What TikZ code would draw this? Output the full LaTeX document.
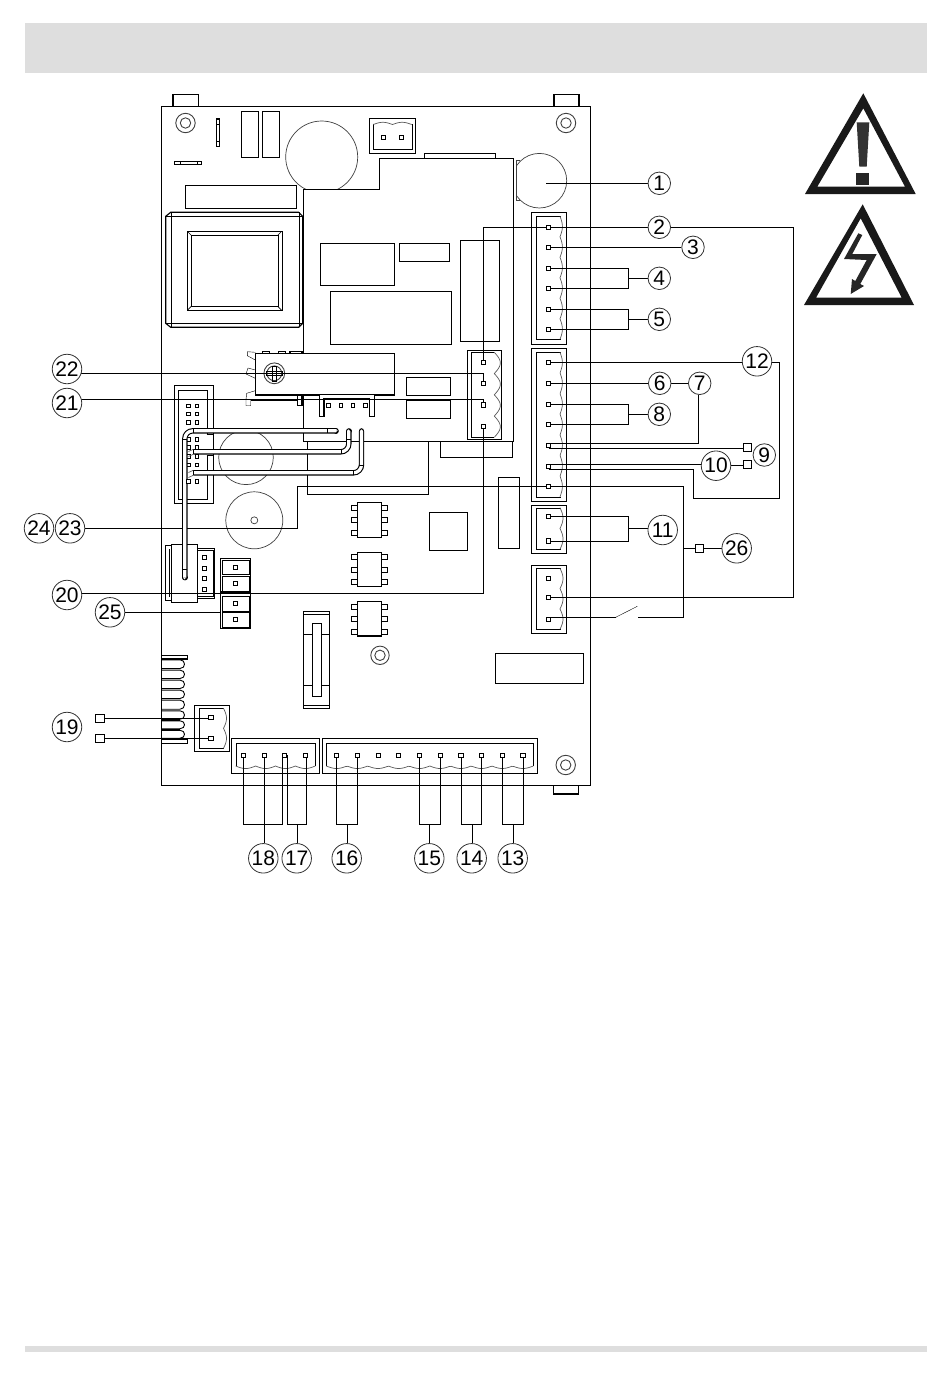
\documentclass[tikz,border=0pt]{standalone}
\usepackage{fontspec}
\setmainfont{Liberation Sans}
\pgfdeclarelayer{front}
\pgfsetlayers{main,front}
\definecolor{band}{HTML}{DEDEDE}
\tikzset{
  num/.style={circle,draw=black!80,line width=.8pt,fill=white,inner sep=0pt,minimum size=22.5pt,font=\fontsize{21}{21}\selectfont,text=black},
  numw/.style={num,minimum size=29.5pt},
  pin/.style={rectangle,draw=black,line width=.9pt,fill=white,inner sep=0pt,minimum size=4.2pt},
  termbox/.style={rectangle,draw=black,line width=.9pt,fill=white,inner sep=0pt,minimum size=8.3pt},
  part/.style={draw=black,line width=1.15pt,fill=white},
  faint/.style={draw=black!75,line width=.7pt},
  wave/.style={draw=black!65,line width=.7pt},
  cable/.style={draw=black,line width=1.1pt,double=white,double distance=3.2pt,line cap=butt},
  capend/.style={draw=black,line width=1.1pt,double=white,double distance=3.2pt,line cap=round},
}
\newcommand\vwave[5]{\draw[wave] plot[variable=\t,domain=0:#4,samples=97] ({#1+#5*abs(sin(180*\t))},{#2+\t*(#3-#2)/#4});}
\newcommand\hwave[5]{\draw[wave] plot[variable=\t,domain=0:#4,samples=97] ({#1+\t*(#2-#1)/#4},{#3+#5*abs(sin(180*\t))});}
\newcommand\chip[2]{%
  \foreach \yy/\dd in {#2} {
    \draw[part] (351.3,{\yy-2.4}) rectangle (357.3,{\yy+2.4});
    \draw[part] (381.7,{\yy-2.4}) rectangle (387.7,{\yy+2.4});
  }
}
\newcommand\hole[3]{\draw[faint,line width=.9pt] (#1,#2) circle[radius=#3]; \draw[faint,line width=.9pt] (#1,#2) circle[radius=5.2];}
\begin{document}
\begin{tikzpicture}[x=1pt,y=-1pt,line width=1.15pt,line join=miter]
\useasboundingbox (0,0) rectangle (950,1374);
\fill[band] (25,23) rectangle (927,73);
\fill[band] (25,1346) rectangle (927,1352);

% ---- numbered marks and terminals, on the front layer
\begin{pgfonlayer}{front}
\node[num] (n1) at (659.3,183.3) {1};
\node[num] (n2) at (659.3,227.3) {2};
\node[num] (n3) at (693,247.3) {3};
\node[num] (n4) at (659.3,278.3) {4};
\node[num] (n5) at (659.3,319.3) {5};
\node[num] (n6) at (659.7,383.3) {6};
\node[num] (n7) at (699.7,383.3) {7};
\node[num] (n8) at (659.3,414.3) {8};
\node[num] (n9) at (764.3,455) {9};
\node[numw] (n10) at (716,465.7) {10};
\node[numw] (n11) at (662.7,530) {11};
\node[numw] (n12) at (757,361.3) {12};
\node[numw] (n13) at (512.7,858.3) {13};
\node[numw] (n14) at (471.7,858.3) {14};
\node[numw] (n15) at (429.3,858.3) {15};
\node[numw] (n16) at (346.7,858.3) {16};
\node[numw] (n17) at (296.7,858.3) {17};
\node[numw] (n18) at (263.3,858.3) {18};
\node[numw] (n19) at (67,727) {19};
\node[numw] (n20) at (67,595) {20};
\node[numw] (n21) at (67,403) {21};
\node[numw] (n22) at (67,369) {22};
\node[numw] (n23) at (70,528.3) {23};
\node[numw] (n24) at (39,528.3) {24};
\node[numw] (n25) at (110,612.3) {25};
\node[numw] (n26) at (736.7,548.3) {26};
% terminals of the right connectors
\foreach \nm/\yy in {ra1/227.3,ra2/247.3,ra3/268.3,ra4/288.3,ra5/309.3,ra6/329.3,
  rb1/362.3,rb2/383.3,rb3/404.3,rb4/424.3,rb5/445.3,rb6/466.7,rb7/486.3,
  rc1/516.3,rc2/541,rd1/578.3,rd2/597.3,rd3/619.3}
  \node[pin] (\nm) at (548.5,\yy) {};
\foreach \nm/\yy in {ma1/362.7,ma2/383.7,ma3/405,ma4/426.7}
  \node[pin] (\nm) at (483.3,\yy) {};
\foreach \nm/\xx in {ba1/243.3,ba2/264.3,ba3/284.7,ba4/305.7,bb1/336.3,bb2/357.3,bb3/378.3,bb4/398.3,bb5/419.3,bb6/440.3,bb7/461,bb8/481.3,bb9/502.3,bb10/523}
  \node[pin] (\nm) at (\xx,755.3) {};
\node[pin] (ca1) at (211,717.7) {};
\node[pin] (ca2) at (211,738.3) {};
\node[termbox] (t9) at (747.2,447.5) {};
\node[termbox] (t10) at (747.2,464.7) {};
\node[termbox] (t26) at (699.2,548.3) {};
\node[termbox] (t19a) at (99.8,718.5) {};
\node[termbox] (t19b) at (99.8,738.5) {};
% other terminals
\foreach \xx/\yy in {383.3/137.3,401.3/137.3,
  328.3/405.3,341/405.3,353/405.3,365.3/405.3,
  204.3/557.3,204.3/568.3,204.3/578.7,204.3/589.3,
  235.3/567.3,235.3/583.3,235.3/603.3,235.3/619.3,
  188.3/406,197/406,188.3/414,197/414,188.3/422.3,197/422.3,
  197/439.3,197/447.7,197/456.3,197/465,197/481.7,188.3/481.7}
  \draw[draw=black,line width=.9pt,fill=white] ({\xx-1.8},{\yy-1.8}) rectangle ({\xx+1.8},{\yy+1.8});
\end{pgfonlayer}

% ---- board
\draw[part] (173,94.5) rectangle (198.5,106.5);
\draw[line width=1.8pt] (173,94.5) -- (198.5,94.5);
\draw[part] (554,94.5) rectangle (579,106.5);
\draw[line width=1.8pt] (554,94.5) -- (579,94.5);
\draw[part] (553.3,785.7) rectangle (578.7,794);
\draw[part] (161.5,106.5) rectangle (590.5,785.7);
\hole{185.5}{123}{9.7}
\hole{566}{123}{9.7}
\hole{565.7}{765}{9.7}
\hole{380}{655.3}{9.2}

% small parts upper left
\draw[part] (216.3,119) rectangle (219.7,146.3);
\draw (216.3,124) -- (219.7,124) (216.3,141) -- (219.7,141);
\draw[part] (174.3,161.3) rectangle (201.7,164.7);
\draw (179.7,161.3) -- (179.7,164.7) (196.7,161.3) -- (196.7,164.7);
\draw[part] (241.3,111.3) rectangle (258.7,157.3);
\draw[part] (262.3,111.3) rectangle (279.7,157.3);
\begin{scope}
  \clip (280,110) rectangle (365,189.3);
  \draw[faint] (321.7,157) circle[radius=36];
\end{scope}
\draw[part] (369.3,118.3) rectangle (415.7,153.3);
\draw (373.3,123.5) -- (373.3,149.3) -- (411.7,149.3) -- (411.7,123.5);
\hwave{373.3}{411.7}{124.5}{2}{-2.2}
\draw[part] (424.3,153.3) rectangle (495.7,158.3);
\draw[part] (185.3,185.3) rectangle (296.3,208.3);

% large component panel
\draw (302.7,441.3) -- (302.7,189.3) -- (378.7,189.3) -- (378.7,158.3) -- (513.3,158.3) -- (513.3,441.3) -- cycle;
\draw (307.3,441.3) -- (307.3,494.3) -- (427.7,494.3) -- (427.7,441.3);
\draw (440.3,441.3) -- (440.3,457.3) -- (512.3,457.3) -- (512.3,441.3);

% transformer
\draw[part] (170.7,212.3) -- (298.7,212.3) -- (302.7,216.3) -- (302.7,323.3) -- (298.7,327.3) -- (170.7,327.3) -- (165.7,323.3) -- (165.7,216.3) -- cycle;
\draw (170.7,212.3) -- (170.7,327.3) (298.7,212.3) -- (298.7,327.3) (165.7,216.3) -- (302.7,216.3) (165.7,323.3) -- (302.7,323.3);
\draw (187.3,231.3) rectangle (281.7,310.3);
\draw (191.3,235.3) rectangle (277.7,306.3);
\draw[line width=.6pt] (187.3,231.3) -- (191.3,235.3) (281.7,231.3) -- (277.7,235.3) (187.3,310.3) -- (191.3,306.3) (281.7,310.3) -- (277.7,306.3);

% rectangles in the panel
\draw[part] (320.3,243.3) rectangle (394.3,285.3);
\draw[part] (399.3,243.3) rectangle (449.3,261.3);
\draw[part] (330.3,291.3) rectangle (451.7,344.3);
\draw[part] (460.3,240.3) rectangle (499.3,341.3);
\draw[part] (406.3,377.3) rectangle (450.7,395.3);
\draw[part] (406.3,400.3) rectangle (450.7,418.3);

% relay
\draw (255.3,352.3) -- (247.3,351.7) -- (247.3,355.7) -- (255.3,360);
\draw (255.3,370) -- (248,368) -- (246,374) -- (255.3,378.3);
\draw (255.3,390.7) -- (246.7,393.3) -- (246,399.3) -- (246,405.7) -- (250.7,405.7) -- (250.7,399.3);
\draw[part] (262.3,351.3) rectangle (269.7,353.3);
\draw[part] (278.3,351.3) rectangle (285.7,353.3);
\draw[part] (290,351.3) rectangle (302,353.3);
\draw[part] (255.3,353.3) rectangle (394.3,395);
\draw[line width=1.8pt] (250.7,400) -- (297.3,400);
\draw[part] (297.3,395) rectangle (302,405.7);
\draw[faint,line width=.9pt] (274.3,373.3) circle[radius=10.4];
\draw[faint,line width=.9pt] (274.3,373.3) circle[radius=7.4];
\draw[line width=.9pt] (272.3,366.7) rectangle (276.3,381.7);
\draw[line width=.9pt] (266.5,371.3) rectangle (282,375.5);

% pin header near the relay
\draw[part] (319.3,395) -- (319.3,416.3) -- (324,416.3) -- (324,398.5) -- (369.7,398.5) -- (369.7,416.3) -- (374.3,416.3) -- (374.3,395);
\draw[line width=1.8pt] (324,398.7) -- (369.7,398.7);

% right-hand connectors
\draw[part] (531.3,212.3) rectangle (566.7,344.3);
\draw (561,216.3) -- (536.3,216.3) -- (536.3,339.3) -- (561,339.3);
\vwave{560}{216.3}{339.3}{6}{2.4}
\draw[part] (531.3,348.3) rectangle (566.7,501.3);
\draw (561,352.3) -- (536.3,352.3) -- (536.3,496.7) -- (561,496.7);
\vwave{560}{352.3}{496.7}{7}{2.4}
\draw[part] (531.3,505.3) rectangle (566.7,553.3);
\draw (561,507.7) -- (536.3,507.7) -- (536.3,549.3) -- (561,549.3);
\vwave{560}{507.7}{549.3}{2}{3}
\draw[part] (531.3,565.7) rectangle (566.7,633.3);
\draw (561,568.3) -- (536.3,568.3) -- (536.3,629.3) -- (561,629.3);
\vwave{560}{568.3}{629.3}{3}{3}

% middle connector
\draw[part] (467.3,350.3) rectangle (501.7,439.3);
\draw (494,352.3) -- (471.3,352.3) -- (471.3,437.3) -- (494,437.3);
\vwave{494.3}{352.3}{437.3}{4}{6}

% long thin rectangles and squares
\draw[part] (498.3,477.3) rectangle (519.3,548.3);
\draw[part] (429.3,512.3) rectangle (467.3,550.3);
\draw[part] (495.3,653.3) rectangle (583.3,683.3);

% chips
\chip{1}{508/0,520.3/0,533.3/0}
\draw[part] (357.3,502.3) rectangle (381.7,537.3);
\chip{2}{557.3/0,570/0,582.3/0}
\draw[part] (357.3,552.3) rectangle (381.7,586.7);
\chip{3}{606.7/0,619.3/0,632/0}
\draw[part] (357.3,601.3) rectangle (381.7,636);

% fuse holder
\draw[part] (303.3,611.3) rectangle (329.5,708.3);
\draw (303.3,614.3) -- (329.5,614.3) (303.3,705.3) -- (329.5,705.3) (303.3,634.3) -- (312.3,634.3) (321.7,634.3) -- (329.5,634.3) (303.3,685) -- (312.3,685) (321.7,685) -- (329.5,685);
\draw[part] (312.3,623.3) rectangle (321.7,696.7);

% lower left connector
\draw[part] (165.7,545.3) rectangle (171.3,600.3);
\draw (169.3,549.3) -- (169.3,597);
\draw[part] (197.7,548.3) rectangle (214.7,598.3);
\draw (197.7,550.3) -- (212.7,550.3) -- (212.7,596.3) -- (197.7,596.3);
\draw[part] (171.3,544.3) rectangle (197.7,602.3);

% twin connectors
\draw[part] (220.3,558.3) rectangle (250.7,591.7);
\draw (222.3,560.3) rectangle (249,574.3);
\draw (222.3,576.3) rectangle (249,590.7);
\draw[part] (220.3,593.7) rectangle (250.7,628.3);
\draw (222.3,596.3) rectangle (249,610.7);
\draw (222.3,612.3) rectangle (249,626.7);
\draw[line width=1.7pt] (220.3,592.7) -- (250.7,592.7);

% coil
\foreach \ya/\yb in {659/669.3,669.3/679.3,679.3/689.3,689.3/699.3,699.3/710,710/720,720/729.5,729.5/739} {
  \draw[line width=.9pt] (161.5,{\ya+.8}) -- (180,{\ya+.8}) .. controls (186,{\ya+.8}) and (186,{\yb-.8}) .. (180,{\yb-.8}) -- (161.5,{\yb-.8});
}
\draw[line width=1.7pt] (161.5,720) -- (180,720) (161.5,729.5) -- (180,729.5) (161.5,739) -- (180,739);
\draw[part] (161.5,655.3) rectangle (187.7,659);
\draw[part] (161.5,739) rectangle (187.7,743.3);

% connector of 19
\draw[part] (194.7,705.3) rectangle (229.3,751.3);
\draw (224,708.3) -- (198.7,708.3) -- (198.7,748.3) -- (224,748.3);
\vwave{223.5}{708.3}{748.3}{2}{3}

% bottom connectors
\draw[part] (231.7,738.7) rectangle (319.3,773.3);
\draw (235.7,766) -- (235.7,743.3) -- (315.3,743.3) -- (315.3,766);
\hwave{235.7}{315.3}{766}{4}{2.5}
\draw[part] (322.3,738.7) rectangle (537.3,773.3);
\draw (326.3,766) -- (326.3,743.3) -- (533.3,743.3) -- (533.3,766);
\hwave{326.3}{533.3}{766}{10}{2.5}

% capacitor of 1
\begin{scope}
  \clip (516.3,150) rectangle (570,212);
  \draw[faint] (539.4,180.7) circle[radius=27.3];
\end{scope}
\draw[faint,line width=.9pt] (519.5,160.7) -- (516.3,160.7) -- (516.3,200) -- (519.5,200);

% round parts left
\draw[faint] (246,457.3) circle[radius=27.3];
\draw[faint] (254.3,520.3) circle[radius=28.5];
\draw[faint] (254.3,520.3) circle[radius=3.5];

% left pin header
\draw (174.3,385.3) rectangle (212.7,503.3);
\draw (206.7,434) -- (206.7,390.3) -- (178.3,390.3) -- (178.3,499.3) -- (206.7,499.3) -- (206.7,456);
\draw[line width=1.6pt] (206.7,434.3) -- (212.7,434.3) (206.7,455.5) -- (212.7,455.5);
\foreach \yy in {439.3,447.7,456.3,465}
  \draw[line width=.9pt,fill=white] (186.5,{\yy-1.8}) rectangle (190.1,{\yy+1.8});

% ---- leaders below the ribbon cables
\draw (n1) -- (546,183.3);
\draw (n3) -- (ra2);
\coordinate (b4) at (628.5,278.3);
\draw (ra3) -| (b4) |- (ra4);
\draw (b4) -- (n4);
\coordinate (b5) at (628.5,319.3);
\draw (ra5) -| (b5) |- (ra6);
\draw (b5) -- (n5);
\coordinate (b8) at (628.5,414.3);
\draw (rb3) -| (b8) |- (rb4);
\draw (b8) -- (n8);
\coordinate (b11) at (628.5,528.5);
\draw (rc1) -| (b11) |- (rc2);
\draw (b11) -- (n11.center |- b11);
\draw (rb1) -- (n12.center |- rb1);
\draw (rb2) -- (n6);
\draw (n6) -- (n7);
\draw (n7.south -| 698.3,0) |- (rb5.north);
\draw (rb5.south) -- (t9.west |- rb5.south);
\draw (rb6.north) -- (n10.center |- rb6.north);
\draw (n10.center |- t10) -- (t10);
\draw (rb6.south) -| (693.3,498.3) -- (779.3,498.3) -- (779.3,362.3) -- (n12.center |- rb1);

% leader 2, both sides
\draw (ma1) |- (ra1) -- (n2);
\coordinate (r2) at (793.3,227.3);
\draw (n2) -- (r2) |- (rd2);

% rb7 out to 23 and to the switch
\coordinate (sw) at (683.3,486.3);
\coordinate (sb) at (683.3,617.3);
\draw (sw) -- (rb7);
\draw (rb7) -- (296.7,486.3) -- (296.7,528.3) -- (n23);
\draw (sw) -- (sb) -- (638.3,617.3);
\draw (rd3 |- sb) -- (615.7,617.3);
\draw (615.7,617.3) -- (637.3,606.3);
\draw (683.3,548.3) -- (t26) -- (n26);

% ---- ribbon cables
\begin{scope}
\draw[capend] (336,430.8) -- (336.1,430.8);
\draw[capend] (184.8,577.6) -- (184.8,577.7);
\draw[cable,rounded corners=8pt] (336,430.8) -- (184.8,430.8) -- (184.8,577.6);
\draw[capend] (348.8,431) -- (348.8,430.9);
\draw[cable,rounded corners=8pt] (193.3,451.8) -- (348.8,451.8) -- (348.8,431);
\draw[capend] (361.5,431) -- (361.5,430.9);
\draw[cable,rounded corners=8pt] (193.3,472.8) -- (361.5,472.8) -- (361.5,431);
\draw (193.3,428.3) -- (193.3,433.3);
\draw (193.3,449.3) -- (193.3,454.3);
\draw (193.3,470.3) -- (193.3,475.3);
\draw (327.3,428.3) -- (327.3,433.3);
\draw (340.7,449.3) -- (340.7,454.3);
\draw (353.3,470.3) -- (353.3,475.3);
\draw (346.3,439) -- (351.3,439);
\draw (359,464.7) -- (364,464.7);
\draw (182.3,439) -- (187.3,439);
\draw (182.3,569.3) -- (187.3,569.3);
\draw[line width=.6pt,black!70] (193.3,449.3) -- (188.5,451.5) (193.3,454.3) -- (188.5,456.5);
\draw[line width=.6pt,black!70] (193.3,470.3) -- (188.5,472.5) (193.3,475.3) -- (188.5,477.5);
\end{scope}

% ---- leaders over the parts, left side
\draw (n22.center |- 0,373.3) -- (483.3,373.3) -- (ma2);
\draw (n21.center |- 0,399.3) -- (483.3,399.3) -- (ma3);
\draw (n20.center |- 0,593.3) -- (483.3,593.3) -- (ma4);
\draw (n25) -- (220.3,612.3);

% connector 19 leads
\draw (t19a) -- (t19a -| ca1.west);
\draw (t19b) -- (t19b -| ca2.west);

% bottom brackets
\coordinate (bb) at (0,824.3);
\draw (ba1) |- (ba3.west |- bb) -- (ba3.west);
\draw (ba3.east) -- (ba3.east |- bb) -| (ba4);
\draw (ba2) -- (ba2 |- n18.north);
\draw (n17 |- bb) -- (n17);
\draw (bb1) |- (bb2 |- bb) -- (bb2);
\draw (n16 |- bb) -- (n16);
\draw (bb5) |- (bb6 |- bb) -- (bb6);
\draw (n15 |- bb) -- (n15);
\draw (bb7) |- (bb8 |- bb) -- (bb8);
\draw (n14 |- bb) -- (n14);
\draw (bb9) |- (bb10 |- bb) -- (bb10);
\draw (n13 |- bb) -- (n13);

% ---- warning triangles
\fill[black!90,even odd rule] (863.3,93.3) -- (915.7,194) -- (805,194) -- cycle
   (863.3,108.3) -- (817.3,186.7) -- (905,186.7) -- cycle;
\fill[black!80] (856.7,122.3) -- (869.3,122.3) -- (866.7,166.7) -- (859.3,166.7) -- cycle;
\fill[black!85] (856.3,173.3) rectangle (869.3,185);
\fill[black!90,even odd rule] (862.7,204.3) -- (914,305) -- (804,305) -- cycle
   (860.7,218.3) -- (816,297.7) -- (901.7,297.7) -- cycle;
\fill[black!85] (858.3,233.3) -- (862.3,235) -- (852.3,254) -- (876.7,254) -- (860.3,284) -- (864,286) -- (850.7,294) -- (852,279) -- (855.3,281) -- (866.7,260) -- (844,259) -- cycle;
\end{tikzpicture}
\end{document}
